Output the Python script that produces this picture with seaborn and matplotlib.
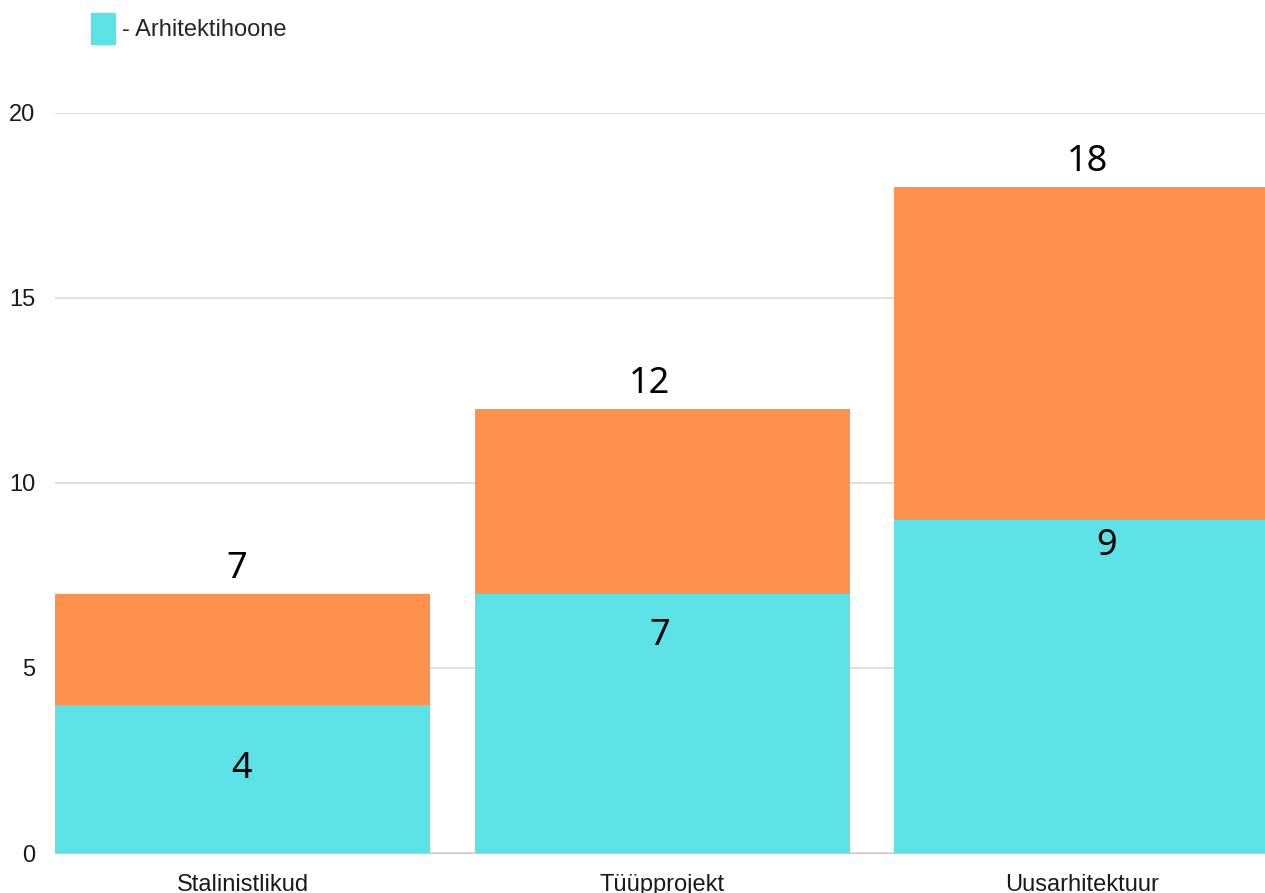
import pandas as pd
import matplotlib.pyplot as plt
import matplotlib.patches as mpatches
import seaborn as sns

kategooriad = ['Stalinistlikud', 'Tüüpprojekt', 'Uusarhitektuur']
arhitektihoone = [4, 7, 9]
kokku = [7, 12, 18]

df = pd.DataFrame({'Kategooria': kategooriad, 'Arhitektihoone': arhitektihoone, 'Kokku': kokku})

sns.set_style('white')
plt.rcParams['font.family'] = ['Liberation Sans', 'DejaVu Sans']

fig = plt.figure(figsize=(12.65, 8.93), dpi=100)
ax = fig.add_axes([55 / 1265, 1 - 853 / 893, 1 - 55 / 1265, (853 - 113) / 893])

sns.barplot(data=df, x='Kategooria', y='Kokku', color='#FF914D', saturation=1,
            width=0.894, linewidth=0, ax=ax, zorder=2)
sns.barplot(data=df, x='Kategooria', y='Arhitektihoone', color='#5CE1E6', saturation=1,
            width=0.894, linewidth=0, ax=ax, zorder=3)

ax.set_xlim(-0.447, 2.437)
ax.set_ylim(0, 20)
ax.set_yticks([0, 5, 10, 15, 20])
ax.yaxis.grid(True, color='#d9d9d9', linewidth=1.2, zorder=0)
ax.set_axisbelow(True)
for s in ['top', 'right', 'left']:
    ax.spines[s].set_visible(False)
ax.spines['bottom'].set_color('#c8c8c8')
ax.tick_params(axis='both', length=0, labelsize=17, colors='#1a1a1a')
ax.tick_params(axis='y', pad=14)
ax.tick_params(axis='x', pad=15)
ax.set_xlabel('')
ax.set_ylabel('')

# väärtuste sildid (nihked punktides)
sise_dx = [-1, -2, 18]
sise_dy = [-46, -30, -19]
ulal_dx = [-4, -9, 4]
for i, (a, k) in enumerate(zip(arhitektihoone, kokku)):
    ax.annotate(str(a), (i, a), xytext=(sise_dx[i], sise_dy[i]), textcoords='offset points',
                ha='center', va='center', fontsize=26,
                family=['Noto Sans', 'DejaVu Sans'], color='black', zorder=5)
    ax.annotate(str(k), (i, k), xytext=(ulal_dx[i], 5), textcoords='offset points',
                ha='center', va='bottom', fontsize=26,
                family=['Noto Sans', 'DejaVu Sans'], color='black', zorder=5)

patch = mpatches.Patch(color='#5CE1E6', label='- Arhitektihoone')
fig.legend(handles=[patch], loc='upper left', bbox_to_anchor=(70 / 1265, 1 + 8 / 893),
           frameon=False, fontsize=17, handlelength=1.0, handleheight=1.6,
           handletextpad=0.3)

fig.savefig('out.png', dpi=100)
